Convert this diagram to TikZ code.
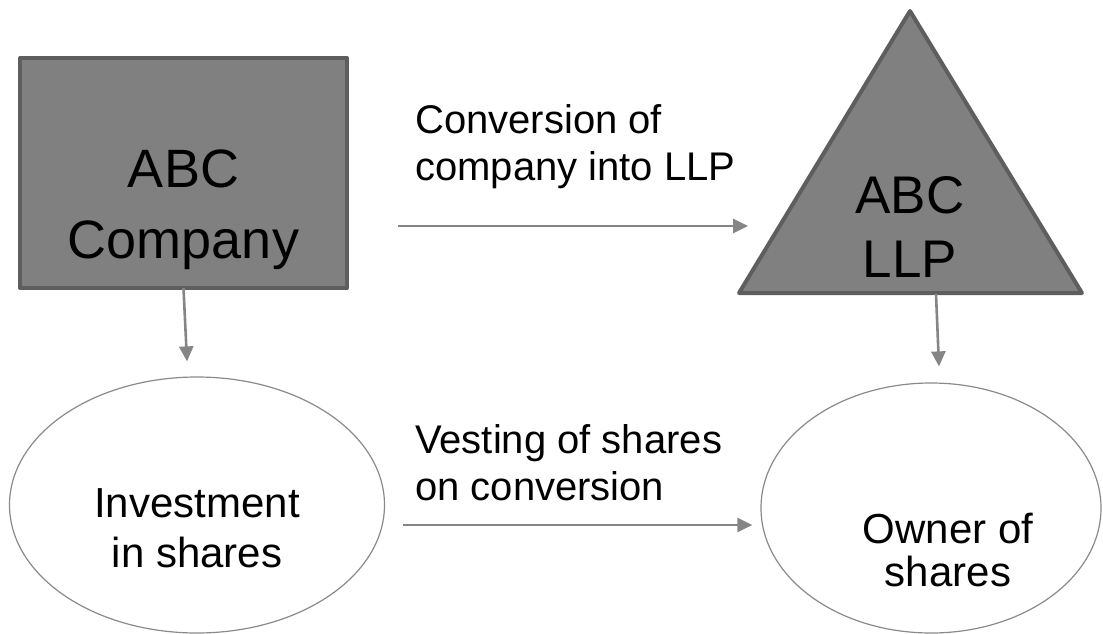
\documentclass[tikz,border=0pt]{standalone}
\usepackage{fontspec}
\setmainfont{Liberation Sans}
\usetikzlibrary{arrows.meta,shapes.geometric}
\definecolor{boxfill}{HTML}{808080}
\definecolor{boxline}{HTML}{5E5E5E}
\definecolor{linkgray}{HTML}{858585}
\definecolor{ringgray}{HTML}{8A8A8A}
\tikzset{
  entity/.style={fill=boxfill, draw=boxline, line width=4pt, line join=round},
  oval/.style={ellipse, draw=ringgray, line width=1.2pt, fill=white, inner sep=0pt},
  link/.style={draw=linkgray, line width=2.6pt, -{Triangle[length=15pt,width=14pt]}},
  bigtxt/.style={font=\fontsize{54}{71}\selectfont, align=center, inner sep=0pt, anchor=base},
  midtxt/.style={font=\fontsize{42}{48}\selectfont, align=center, inner sep=0pt, anchor=base},
  steptxt/.style={font=\fontsize{40}{47}\selectfont, align=left, inner sep=0pt, anchor=base west},
}
\begin{document}
\begin{tikzpicture}[x=1pt,y=-1pt]
\useasboundingbox (0,0) rectangle (1103,634);

% company box and LLP triangle (anchor=base sits on the last text line)
\draw[entity] (20,58) rectangle (347,288);
\node[bigtxt] (comp) at (183.5,258) {ABC\\Company};
\coordinate (compfoot) at (183.5,288);

\draw[entity] (910,11) -- (1082,293) -- (739,293) -- cycle;
\node[bigtxt, font=\fontsize{53}{64}\selectfont] (llp) at (910,277) {ABC\\LLP};
\coordinate (llpfoot) at (936,294);

% ellipses
\node[oval, minimum width=375pt, minimum height=256pt] (inv) at (197,505) {};
\node[midtxt, font=\fontsize{42}{50}\selectfont] (invtxt) at (197,567) {Investment\\in shares};

\node[oval, minimum width=340pt, minimum height=250pt] (own) at (931,508) {};
\node[midtxt, font=\fontsize{42}{43}\selectfont] (owntxt) at (948,586) {Owner of\\shares};

% transition labels
\node[steptxt] (convlbl) at (415,180) {Conversion of\\company into LLP};
\node[steptxt] (vestlbl) at (415,500) {Vesting of shares\\on conversion};

% connectors
\coordinate (convstart) at (398,226);
\coordinate (vestStart) at (403,525);
\draw[link] (compfoot) -- ([xshift=-10pt,yshift=15pt]inv.north);
\draw[link] (llpfoot) -- ([xshift=8pt,yshift=16pt]own.north);
\draw[link] (convstart) -- (748,226);
\draw[link] (vestStart) -- ([xshift=-8pt]own.west |- vestStart);
\end{tikzpicture}
\end{document}
